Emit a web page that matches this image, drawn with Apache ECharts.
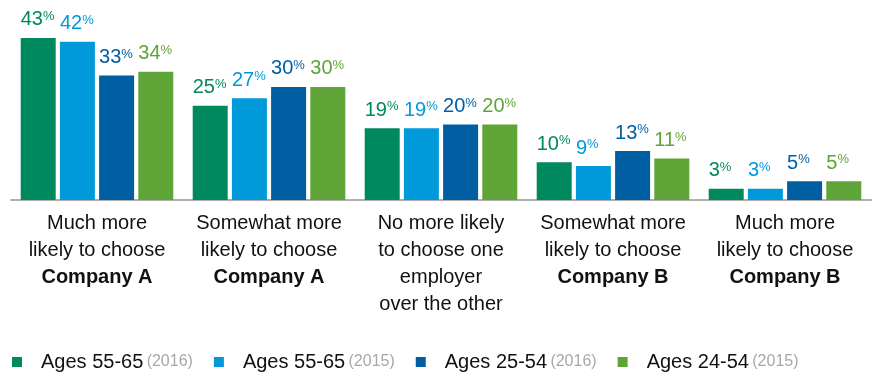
<!DOCTYPE html>
<html>
<head>
<meta charset="utf-8">
<script src="https://cdn.jsdelivr.net/npm/echarts@6/dist/echarts.min.js"></script>
<style>
  html, body { margin: 0; padding: 0; background: #fff; }
  #chart { width: 873px; height: 373px; }
</style>
</head>
<body>
<div id="chart"></div>
<script>
// Category labels: regular lines, then an optional bold line
const categoryLines = [
  ['Much more', 'likely to choose'],
  ['Somewhat more', 'likely to choose'],
  ['No more likely', 'to choose one', 'employer', 'over the other'],
  ['Somewhat more', 'likely to choose'],
  ['Much more', 'likely to choose']
];
const categoryBold = ['Company A', 'Company A', '', 'Company B', 'Company B'];

const seriesNames = ['Ages 55-65 (2016)', 'Ages 55-65 (2015)', 'Ages 25-54 (2016)', 'Ages 24-54 (2015)'];
const seriesColors = ['#00885f', '#0099da', '#005ea3', '#5fa436'];

const ages5565_2016 = [43, 25, 19, 10, 3];
const ages5565_2015 = [42, 27, 19, 9, 3];
const ages2554_2016 = [33, 30, 20, 13, 5];
const ages2454_2015 = [34, 30, 20, 11, 5];
const seriesValues = [ages5565_2016, ages5565_2015, ages2554_2016, ages2454_2015];

const categories = categoryLines.map((lines, i) => i);

const chart = echarts.init(document.getElementById('chart'), null, { renderer: 'canvas' });

const font = '"Liberation Sans", Arial, Helvetica, sans-serif';

const series = seriesNames.map((name, s) => ({
  name: name,
  type: 'bar',
  barWidth: 35,
  barGap: '12%',
  data: seriesValues[s],
  itemStyle: { color: seriesColors[s] },
  label: {
    show: true,
    position: [0, -8],
    align: 'left',
    verticalAlign: 'bottom',
    formatter: p => '{n|' + p.value + '}{p|%}',
    rich: {
      n: { fontSize: 20, color: seriesColors[s], fontFamily: font, verticalAlign: 'bottom' },
      p: { fontSize: 13, color: seriesColors[s], fontFamily: font, verticalAlign: 'top', padding: [0, 0, 7, 0] }
    }
  }
}));

chart.setOption({
  animation: false,
  textStyle: { fontFamily: font },
  grid: { left: 11, right: 2, top: 11.5, height: 188.5, containLabel: false },
  legend: {
    left: 7,
    top: 347,
    icon: 'rect',
    itemWidth: 10,
    itemHeight: 10,
    itemGap: 21,
    data: seriesNames,
    formatter: name => {
      const i = name.indexOf(' (');
      return '{a|' + name.slice(0, i) + '} {b|' + name.slice(i + 1) + '}';
    },
    textStyle: {
      rich: {
        a: { fontSize: 20, color: '#111', fontFamily: font, padding: [0, 0, 0, 14] },
        b: { fontSize: 16, color: '#a8a8a8', fontFamily: '"Liberation Sans Narrow", ' + font }
      }
    }
  },
  xAxis: {
    type: 'category',
    data: categories,
    axisLine: { lineStyle: { color: '#b0b0b0', width: 2 } },
    axisTick: { show: false },
    axisLabel: {
      interval: 0,
      margin: 10,
      lineHeight: 27,
      formatter: v => {
        const i = Number(v);
        const parts = categoryLines[i].map(t => '{r|' + t + '}');
        if (categoryBold[i]) parts.push('{b|' + categoryBold[i] + '}');
        return parts.join('\n');
      },
      rich: {
        r: { fontSize: 20, color: '#111', fontFamily: font, lineHeight: 27 },
        b: { fontSize: 20, color: '#111', fontFamily: font, fontWeight: 'bold', lineHeight: 27 }
      }
    }
  },
  yAxis: {
    type: 'value',
    min: 0,
    max: 50,
    show: false,
    splitLine: { show: false }
  },
  series: series
});
</script>
</body>
</html>
